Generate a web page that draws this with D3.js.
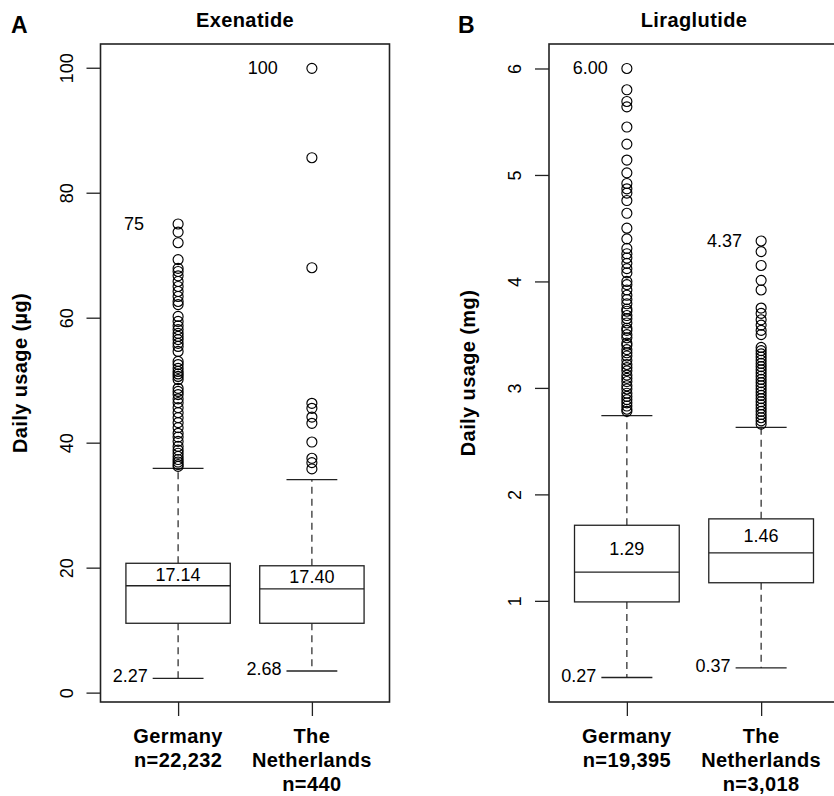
<!DOCTYPE html>
<html>
<head>
<meta charset="utf-8">
<script src="https://cdn.jsdelivr.net/npm/d3@7"></script>
<style>
  body { margin: 0; background: #fff; }
  text { font-family: "Liberation Sans", Arial, sans-serif; fill: #000; }
</style>
</head>
<body>
<script>
// data
const countries = ['Germany', 'The Netherlands']

const exenatideN = ['n=22,232', 'n=440']
const exenatideTicks = [0, 20, 40, 60, 80, 100]
const exenatideQ1 = [11.1, 11.1]
const exenatideMedian = [17.1, 16.6]
const exenatideQ3 = [20.7, 20.3]
const exenatideLow = [2.27, 3.46]
const exenatideHigh = [35.9, 34.1]
const exenatideOutliers = [
  [75.0, 73.7, 72.0, 69.3, 67.9, 67.4, 66.7, 65.8, 65.0, 64.2, 63.4, 62.6, 62.1, 60.2, 59.4,
    58.7, 58.1, 57.5, 57.0, 56.5, 55.9, 55.4, 54.6, 53.0, 52.5, 51.9, 51.4, 51.0, 50.6, 50.1,
    48.7, 48.2, 47.7, 47.0, 46.4, 45.6, 44.8, 44.0, 43.2, 42.4, 41.5, 40.9, 40.2, 39.4, 38.8,
    38.3, 37.8, 37.3, 36.9, 36.5, 36.2],
  [99.9, 85.6, 68.0, 46.3, 45.5, 44.1, 43.1, 40.1, 37.5, 36.8, 35.8]
]
const exenatideMedianLabels = ['17.14', '17.40']
const exenatideMinLabels = ['2.27', '2.68']
const exenatideMaxLabels = ['75', '100']

const liraglutideN = ['n=19,395', 'n=3,018']
const liraglutideTicks = [1, 2, 3, 4, 5, 6]
const liraglutideQ1 = [0.99, 1.17]
const liraglutideMedian = [1.27, 1.45]
const liraglutideQ3 = [1.71, 1.77]
const liraglutideLow = [0.28, 0.37]
const liraglutideHigh = [2.74, 2.63]
const liraglutideOutliers = [
  [6.00, 5.80, 5.69, 5.64, 5.45, 5.29, 5.14, 5.02, 4.92, 4.87, 4.83, 4.76, 4.64, 4.50, 4.40,
    4.31, 4.26, 4.22, 4.17, 4.12, 4.08, 4.00, 3.97, 3.92, 3.87, 3.83, 3.79, 3.74, 3.72, 3.68,
    3.65, 3.61, 3.56, 3.54, 3.50, 3.47, 3.42, 3.40, 3.36, 3.33, 3.30, 3.26, 3.22, 3.19, 3.16,
    3.12, 3.09, 3.06, 3.02, 2.99, 2.95, 2.92, 2.89, 2.86, 2.83, 2.80, 2.78],
  [4.38, 4.28, 4.15, 4.01, 3.92, 3.75, 3.70, 3.64, 3.59, 3.54, 3.50, 3.38, 3.35, 3.32, 3.29,
    3.26, 3.23, 3.20, 3.17, 3.14, 3.11, 3.08, 3.05, 3.02, 2.99, 2.96, 2.93, 2.90, 2.87, 2.84,
    2.81, 2.78, 2.75, 2.72, 2.69, 2.66]
]
const liraglutideMedianLabels = ['1.29', '1.46']
const liraglutideMinLabels = ['0.27', '0.37']
const liraglutideMaxLabels = ['6.00', '4.37']

const W = 834
const H = 796
const TOP = 44
const BOTTOM = 702
const INK = '#222'

const svg = d3.select('body').append('svg')
  .attr('xmlns', 'http://www.w3.org/2000/svg')
  .attr('width', W)
  .attr('height', H)

function drawPanel (p) {
  const x = d3.scaleLinear().domain([0.42, 2.58]).range(p.xRange)
  const y = d3.scaleLinear().domain(p.yDomain).range([BOTTOM, TOP])
  const g = svg.append('g')
  const left = p.xRange[0]
  const mid = (p.xRange[0] + p.xRange[1]) / 2

  // panel letter + title
  g.append('text').attr('x', p.letterX).attr('y', 33)
    .style('font-size', '23px').style('font-weight', 'bold').text(p.letter)
  g.append('text').attr('x', mid).attr('y', 27).attr('text-anchor', 'middle')
    .style('font-size', '20px').style('font-weight', 'bold').style('letter-spacing', '0.4px')
    .text(p.title)

  // frame
  g.append('rect')
    .attr('x', left).attr('y', TOP)
    .attr('width', p.xRange[1] - left).attr('height', BOTTOM - TOP)
    .attr('fill', 'none').attr('stroke', INK).attr('stroke-width', 1.6)

  // y axis, R style rotated labels
  const yAxis = g.append('g')
    .attr('transform', `translate(${left},0)`)
    .call(d3.axisLeft(y).tickValues(p.ticks).tickSize(14).tickSizeOuter(0).tickFormat(d3.format('d')))
  yAxis.select('.domain').remove()
  yAxis.selectAll('line').attr('stroke', INK).attr('stroke-width', 1.3)
  yAxis.selectAll('text')
    .attr('x', null).attr('dy', null)
    .attr('text-anchor', 'middle')
    .attr('transform', 'translate(-28,0) rotate(-90)')
    .style('font-size', '18px')
    .style('font-family', '"Liberation Sans", Arial, sans-serif')
    .attr('fill', '#000')

  g.append('text')
    .attr('transform', `translate(${p.labelX},${(TOP + BOTTOM) / 2}) rotate(-90)`)
    .attr('text-anchor', 'middle')
    .style('font-size', '20px').style('font-weight', 'bold').style('letter-spacing', '0.4px')
    .text(p.yLabel)

  // x axis ticks + multi-line labels
  const xAxis = g.append('g')
    .attr('transform', `translate(0,${BOTTOM})`)
    .call(d3.axisBottom(x).tickValues([1, 2]).tickSize(14).tickFormat(''))
  xAxis.select('.domain').remove()
  xAxis.selectAll('line').attr('stroke', INK).attr('stroke-width', 1.3)

  countries.forEach((c, i) => {
    const lines = c.split(' ').concat([p.n[i]])
    const t = g.append('text').attr('text-anchor', 'middle')
      .style('font-size', '20px').style('font-weight', 'bold').style('letter-spacing', '0.4px')
    lines.forEach((l, k) => {
      t.append('tspan').attr('x', x(i + 1)).attr('y', 743 + k * 24).text(l)
    })
  })

  // boxes
  countries.forEach((c, i) => {
    const cx = x(i + 1)
    const bx0 = x(i + 1 - 0.39)
    const bx1 = x(i + 1 + 0.39)
    const cx0 = x(i + 1 - 0.19)
    const cx1 = x(i + 1 + 0.19)

    g.append('line').attr('x1', cx).attr('x2', cx)
      .attr('y1', y(p.q3[i])).attr('y2', y(p.high[i]))
      .attr('stroke', INK).attr('stroke-width', 1.2).attr('stroke-dasharray', '7,5')
    g.append('line').attr('x1', cx).attr('x2', cx)
      .attr('y1', y(p.q1[i])).attr('y2', y(p.low[i]))
      .attr('stroke', INK).attr('stroke-width', 1.2).attr('stroke-dasharray', '7,5')

    g.selectAll(null).data([p.high[i], p.low[i]]).enter().append('line')
      .attr('x1', cx0).attr('x2', cx1)
      .attr('y1', d => y(d)).attr('y2', d => y(d))
      .attr('stroke', INK).attr('stroke-width', 1.3)

    g.append('rect')
      .attr('x', bx0).attr('y', y(p.q3[i]))
      .attr('width', bx1 - bx0).attr('height', y(p.q1[i]) - y(p.q3[i]))
      .attr('fill', '#fff').attr('stroke', INK).attr('stroke-width', 1.3)
    g.append('line').attr('x1', bx0).attr('x2', bx1)
      .attr('y1', y(p.median[i])).attr('y2', y(p.median[i]))
      .attr('stroke', INK).attr('stroke-width', 1.3)

    g.selectAll(null).data(p.outliers[i]).enter().append('circle')
      .attr('cx', cx).attr('cy', d => y(d)).attr('r', 5)
      .attr('fill', 'none').attr('stroke', '#000').attr('stroke-width', 1.15)

    // annotations
    g.append('text').attr('x', cx).attr('y', y((p.median[i] + p.q3[i]) / 2))
      .attr('text-anchor', 'middle').attr('dominant-baseline', 'central')
      .style('font-size', '18px').text(p.medianLabels[i])
    g.append('text').attr('x', cx0 - 5).attr('y', y(p.low[i]) - 2)
      .attr('text-anchor', 'end').attr('dominant-baseline', 'central')
      .style('font-size', '18px').text(p.minLabels[i])
    g.append('text').attr('x', cx - p.maxGap).attr('y', y(d3.max(p.outliers[i])))
      .attr('text-anchor', 'end').attr('dominant-baseline', 'central')
      .style('font-size', '18px').text(p.maxLabels[i])
  })
}

drawPanel({
  letter: 'A',
  letterX: 11,
  title: 'Exenatide',
  yLabel: 'Daily usage (\u00b5g)',
  labelX: 27,
  xRange: [100.5, 389.5],
  yDomain: [-1.5, 103.8],
  ticks: exenatideTicks,
  n: exenatideN,
  q1: exenatideQ1,
  median: exenatideMedian,
  q3: exenatideQ3,
  low: exenatideLow,
  high: exenatideHigh,
  outliers: exenatideOutliers,
  medianLabels: exenatideMedianLabels,
  minLabels: exenatideMinLabels,
  maxLabels: exenatideMaxLabels,
  maxGap: 34
})

drawPanel({
  letter: 'B',
  letterX: 458,
  title: 'Liraglutide',
  yLabel: 'Daily usage (mg)',
  labelX: 475,
  xRange: [549, 839],
  yDomain: [0.05, 6.23],
  ticks: liraglutideTicks,
  n: liraglutideN,
  q1: liraglutideQ1,
  median: liraglutideMedian,
  q3: liraglutideQ3,
  low: liraglutideLow,
  high: liraglutideHigh,
  outliers: liraglutideOutliers,
  medianLabels: liraglutideMedianLabels,
  minLabels: liraglutideMinLabels,
  maxLabels: liraglutideMaxLabels,
  maxGap: 19
})
</script>
</body>
</html>
